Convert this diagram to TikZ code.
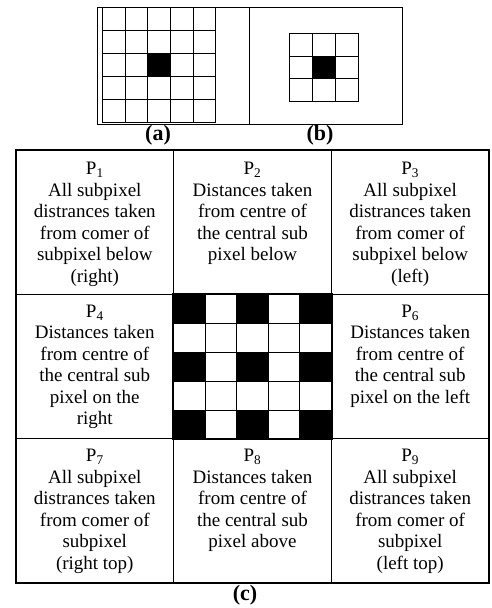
\documentclass[tikz,border=0pt]{standalone}
\usepackage{fontspec}
\setmainfont{Liberation Serif}
\usetikzlibrary{positioning}

\begin{document}
\begin{tikzpicture}[x=1pt, y=-1pt,
    cell/.style={draw, line width=1.5pt, inner sep=0pt,
                minimum width=157.7pt, minimum height=144.3pt},
    celltext/.style={align=center, inner sep=0pt,
                font=\fontsize{19}{21.5}\selectfont},
    sub/.style={draw, line width=1pt},
    caption/.style={font=\fontsize{22}{24}\selectfont\bfseries, inner sep=0pt}
  ]
    \useasboundingbox (0,0) rectangle (492,608);

    % (a) and (b) frames
    \draw[line width=0.8pt] (97,7) rectangle (402,124);
    \draw[line width=0.8pt] (249,7) -- (249,124);

    % 5x5 window
    \fill (147.9,53.5) rectangle ++(22.6,23.1);
    \foreach \i in {0,...,4}
      \foreach \j in {0,...,4}
        \draw[sub] (102.7+22.6*\i, 7.3+23.1*\j) rectangle ++(22.6,23.1);

    % 3x3 window
    \fill (312.4,56.1) rectangle ++(23.1,22.8);
    \foreach \i in {0,...,2}
      \foreach \j in {0,...,2}
        \draw[sub] (289.3+23.1*\i, 33.3+22.8*\j) rectangle ++(23.1,22.8);

    \node[caption] (capa) at (158,135) {(a)};
    \node[caption] (capb) at (320,135) {(b)};

    % (c) nine cells
    \node[cell] (p1) at (94.8,222.2) {};
    \node[cell] (p2) at (252.5,222.2) {};
    \node[cell] (p3) at (410.2,222.2) {};
    \node[cell] (p4) at (94.8,366.5) {};
    \node[cell] (p5) at (252.5,366.5) {};
    \node[cell] (p6) at (410.2,366.5) {};
    \node[cell] (p7) at (94.8,510.8) {};
    \node[cell] (p8) at (252.5,510.8) {};
    \node[cell] (p9) at (410.2,510.8) {};

    % checker board in the centre
    \foreach \i in {0,...,4}
      \foreach \j in {0,...,4} {
        \pgfmathtruncatemacro{\odd}{mod(\i,2)+mod(\j,2)}
        \ifnum\odd=0
          \filldraw[line width=0.6pt] (173.7+31.5*\i, 294.3+28.9*\j) rectangle ++(31.5,28.9);
        \else
          \draw[line width=0.6pt] (173.7+31.5*\i, 294.3+28.9*\j) rectangle ++(31.5,28.9);
        \fi
      }
    \draw[line width=1.5pt] (p5.north west) rectangle (p5.south east);

    \node[celltext, anchor=north, below=13pt of p1.north] (t1)
      {P\textsubscript{1}\\All subpixel\\distrances taken\\from comer of\\subpixel below\\(right)};
    \node[celltext, anchor=north, below=13pt of p2.north] (t2)
      {P\textsubscript{2}\\Distances taken\\from centre of\\the central sub\\pixel below};
    \node[celltext, anchor=north, below=13pt of p3.north] (t3)
      {P\textsubscript{3}\\All subpixel\\distrances taken\\from comer of\\subpixel below\\(left)};
    \node[celltext, anchor=north, below=11pt of p4.north] (t4)
      {P\textsubscript{4}\\Distances taken\\from centre of\\the central sub\\pixel on the\\right};
    \node[celltext, anchor=north, below=11pt of p6.north] (t6)
      {P\textsubscript{6}\\Distances taken\\from centre of\\the central sub\\pixel on the left};
    \node[celltext, anchor=north, below=11pt of p7.north] (t7)
      {P\textsubscript{7}\\All subpixel\\distrances taken\\from comer of\\subpixel\\(right top)};
    \node[celltext, anchor=north, below=11pt of p8.north] (t8)
      {P\textsubscript{8}\\Distances taken\\from centre of\\the central sub\\pixel above};
    \node[celltext, anchor=north, below=11pt of p9.north] (t9)
      {P\textsubscript{9}\\All subpixel\\distrances taken\\from comer of\\subpixel\\(left top)};

    \node[caption] (capc) at (245,595) {(c)};
  \end{tikzpicture}
\end{document}
